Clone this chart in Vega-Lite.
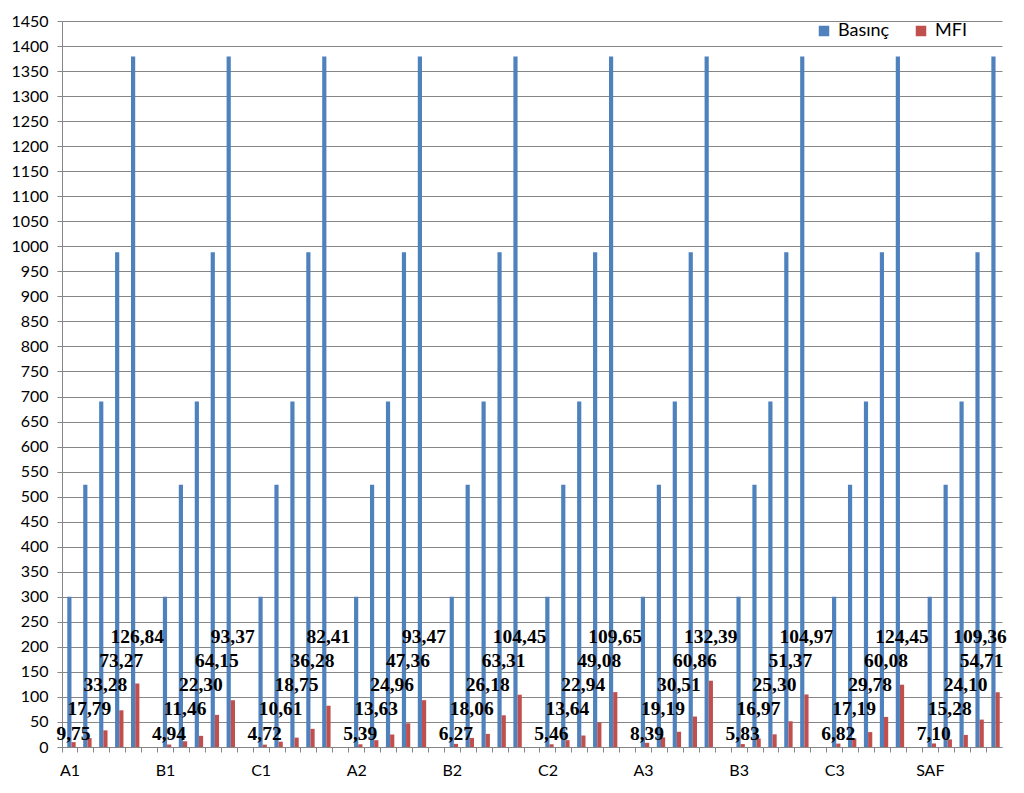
{
  "$schema": "https://vega.github.io/schema/vega-lite/v6.json",
  "autosize": "none",
  "width": 940,
  "height": 726,
  "padding": {"left": 62, "top": 21, "right": 22, "bottom": 46},
  "background": "white",
  "config": {
    "view": {"stroke": null},
    "locale": {"number": {"decimal": ",", "thousands": ".", "grouping": [3], "currency": ["", ""]}}
  },
  "data": {
    "values": [
      {"grp": "A1", "step": 1, "Basınç": 300, "MFI": 9.75},
      {"grp": "A1", "step": 2, "Basınç": 524, "MFI": 17.79},
      {"grp": "A1", "step": 3, "Basınç": 690, "MFI": 33.28},
      {"grp": "A1", "step": 4, "Basınç": 988, "MFI": 73.27},
      {"grp": "A1", "step": 5, "Basınç": 1379, "MFI": 126.84},
      {"grp": "B1", "step": 1, "Basınç": 300, "MFI": 4.94},
      {"grp": "B1", "step": 2, "Basınç": 524, "MFI": 11.46},
      {"grp": "B1", "step": 3, "Basınç": 690, "MFI": 22.30},
      {"grp": "B1", "step": 4, "Basınç": 988, "MFI": 64.15},
      {"grp": "B1", "step": 5, "Basınç": 1379, "MFI": 93.37},
      {"grp": "C1", "step": 1, "Basınç": 300, "MFI": 4.72},
      {"grp": "C1", "step": 2, "Basınç": 524, "MFI": 10.61},
      {"grp": "C1", "step": 3, "Basınç": 690, "MFI": 18.75},
      {"grp": "C1", "step": 4, "Basınç": 988, "MFI": 36.28},
      {"grp": "C1", "step": 5, "Basınç": 1379, "MFI": 82.41},
      {"grp": "A2", "step": 1, "Basınç": 300, "MFI": 5.39},
      {"grp": "A2", "step": 2, "Basınç": 524, "MFI": 13.63},
      {"grp": "A2", "step": 3, "Basınç": 690, "MFI": 24.96},
      {"grp": "A2", "step": 4, "Basınç": 988, "MFI": 47.36},
      {"grp": "A2", "step": 5, "Basınç": 1379, "MFI": 93.47},
      {"grp": "B2", "step": 1, "Basınç": 300, "MFI": 6.27},
      {"grp": "B2", "step": 2, "Basınç": 524, "MFI": 18.06},
      {"grp": "B2", "step": 3, "Basınç": 690, "MFI": 26.18},
      {"grp": "B2", "step": 4, "Basınç": 988, "MFI": 63.31},
      {"grp": "B2", "step": 5, "Basınç": 1379, "MFI": 104.45},
      {"grp": "C2", "step": 1, "Basınç": 300, "MFI": 5.46},
      {"grp": "C2", "step": 2, "Basınç": 524, "MFI": 13.64},
      {"grp": "C2", "step": 3, "Basınç": 690, "MFI": 22.94},
      {"grp": "C2", "step": 4, "Basınç": 988, "MFI": 49.08},
      {"grp": "C2", "step": 5, "Basınç": 1379, "MFI": 109.65},
      {"grp": "A3", "step": 1, "Basınç": 300, "MFI": 8.39},
      {"grp": "A3", "step": 2, "Basınç": 524, "MFI": 19.19},
      {"grp": "A3", "step": 3, "Basınç": 690, "MFI": 30.51},
      {"grp": "A3", "step": 4, "Basınç": 988, "MFI": 60.86},
      {"grp": "A3", "step": 5, "Basınç": 1379, "MFI": 132.39},
      {"grp": "B3", "step": 1, "Basınç": 300, "MFI": 5.83},
      {"grp": "B3", "step": 2, "Basınç": 524, "MFI": 16.97},
      {"grp": "B3", "step": 3, "Basınç": 690, "MFI": 25.30},
      {"grp": "B3", "step": 4, "Basınç": 988, "MFI": 51.37},
      {"grp": "B3", "step": 5, "Basınç": 1379, "MFI": 104.97},
      {"grp": "C3", "step": 1, "Basınç": 300, "MFI": 6.82},
      {"grp": "C3", "step": 2, "Basınç": 524, "MFI": 17.19},
      {"grp": "C3", "step": 3, "Basınç": 690, "MFI": 29.78},
      {"grp": "C3", "step": 4, "Basınç": 988, "MFI": 60.08},
      {"grp": "C3", "step": 5, "Basınç": 1379, "MFI": 124.45},
      {"grp": "SAF", "step": 1, "Basınç": 300, "MFI": 7.10},
      {"grp": "SAF", "step": 2, "Basınç": 524, "MFI": 15.28},
      {"grp": "SAF", "step": 3, "Basınç": 690, "MFI": 24.10},
      {"grp": "SAF", "step": 4, "Basınç": 988, "MFI": 54.71},
      {"grp": "SAF", "step": 5, "Basınç": 1379, "MFI": 109.36}
    ]
  },
  "transform": [
    {"calculate": "datum.grp + '_' + datum.step", "as": "cat"}
  ],
  "encoding": {
    "x": {
      "field": "cat",
      "type": "nominal",
      "sort": null,
      "scale": {
        "domain": ["A1_1","A1_2","A1_3","A1_4","A1_5","g1",
                   "B1_1","B1_2","B1_3","B1_4","B1_5","g2",
                   "C1_1","C1_2","C1_3","C1_4","C1_5","g3",
                   "A2_1","A2_2","A2_3","A2_4","A2_5","g4",
                   "B2_1","B2_2","B2_3","B2_4","B2_5","g5",
                   "C2_1","C2_2","C2_3","C2_4","C2_5","g6",
                   "A3_1","A3_2","A3_3","A3_4","A3_5","g7",
                   "B3_1","B3_2","B3_3","B3_4","B3_5","g8",
                   "C3_1","C3_2","C3_3","C3_4","C3_5","g9",
                   "SAF_1","SAF_2","SAF_3","SAF_4","SAF_5"],
        "paddingInner": 0,
        "paddingOuter": 0
      },
      "axis": {
        "title": null,
        "labelAngle": 0,
        "labelExpr": "indexof(datum.value, '_1') > 0 ? split(datum.value, '_')[0] : ''",
        "labelOverlap": false,
        "bandPosition": 0,
        "tickSize": 5,
        "tickColor": "#868686",
        "domainColor": "#868686",
        "labelFont": "Lato",
        "labelFontSize": 16,
        "labelColor": "#000000",
        "labelPadding": 10,
        "grid": false
      }
    }
  },
  "layer": [
    {
      "transform": [
        {"fold": ["Basınç", "MFI"], "as": ["series", "value"]}
      ],
      "mark": {"type": "bar"},
      "encoding": {
        "xOffset": {
          "field": "series",
          "type": "nominal",
          "scale": {"domain": ["Basınç", "MFI"], "paddingInner": 0, "paddingOuter": 0.9, "align": 0.7}
        },
        "y": {
          "field": "value",
          "type": "quantitative",
          "scale": {"domain": [0, 1450], "nice": false},
          "axis": {
            "title": null,
            "values": [0,50,100,150,200,250,300,350,400,450,500,550,600,650,700,750,800,850,900,950,1000,1050,1100,1150,1200,1250,1300,1350,1400,1450],
            "format": "d",
            "grid": true,
            "gridColor": "#868686",
            "gridWidth": 1,
            "domainColor": "#868686",
            "tickColor": "#868686",
            "tickSize": 5,
            "labelFont": "Lato",
            "labelFontSize": 16,
            "labelColor": "#000000",
            "labelPadding": 9
          }
        },
        "color": {
          "field": "series",
          "type": "nominal",
          "scale": {"domain": ["Basınç", "MFI"], "range": ["#4F81BD", "#C0504D"]},
          "legend": {
            "title": null,
            "orient": "none",
            "direction": "horizontal",
            "legendX": 753,
            "legendY": 1,
            "symbolType": "square",
            "symbolSize": 110,
            "symbolStrokeWidth": 0,
            "labelFont": "Lato",
            "labelFontSize": 18,
            "labelColor": "#000000",
            "labelOffset": 5,
            "columnPadding": 22
          }
        }
      }
    },
    {
      "transform": [{"filter": "!(datum.grp == 'SAF' && datum.step == 5)"}],
      "mark": {
        "type": "text",
        "font": "Liberation Serif",
        "fontWeight": "bold",
        "fontSize": 19.5,
        "color": "#000000",
        "baseline": "middle",
        "align": "center",
        "dx": 3.5
      },
      "encoding": {
        "y": {
          "field": "step",
          "type": "quantitative",
          "scale": {"domain": [0.45, 30.41], "nice": false, "zero": false},
          "axis": null
        },
        "text": {"field": "MFI", "type": "quantitative", "format": ".2f"}
      }
    },
    {
      "transform": [{"filter": "datum.grp == 'SAF' && datum.step == 5"}],
      "mark": {
        "type": "text",
        "font": "Liberation Serif",
        "fontWeight": "bold",
        "fontSize": 19.5,
        "color": "#000000",
        "baseline": "middle",
        "align": "center",
        "dx": -14
      },
      "encoding": {
        "y": {
          "field": "step",
          "type": "quantitative",
          "scale": {"domain": [0.45, 30.41], "nice": false, "zero": false},
          "axis": null
        },
        "text": {"field": "MFI", "type": "quantitative", "format": ".2f"}
      }
    }
  ],
  "resolve": {"scale": {"y": "independent"}, "axis": {"y": "independent"}}
}
